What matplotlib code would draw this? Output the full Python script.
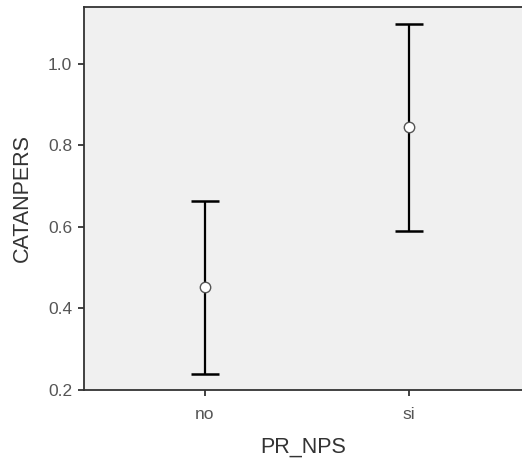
import numpy as np
import matplotlib
matplotlib.use("Agg")
import matplotlib.pyplot as plt

# group means with error bar limits
groups = ['no', 'si']
means = [0.452, 0.845]
lower = [0.240, 0.590]
upper = [0.663, 1.098]

plt.rcParams['font.family'] = ['Liberation Sans', 'DejaVu Sans']

fig = plt.figure(figsize=(5.22, 4.59), dpi=100)
ax = fig.add_axes([84/522, 1 - 390/459, 1 - 84/522, (390 - 6.5)/459])
ax.set_facecolor('#f0f0f0')

x = np.arange(len(groups))
means = np.array(means)
yerr = np.vstack([means - np.array(lower), np.array(upper) - means])
ax.errorbar(x, means, yerr=yerr, fmt='none', ecolor='black', elinewidth=1.6,
            capsize=10, capthick=1.8, zorder=2)
ax.plot(x, means, 'o', ms=7.5, mfc='white', mec='#555555', mew=1, zorder=3)

ax.set_xlim(-0.593, 1.554)
ax.set_ylim(0.2, 1.141)
ax.set_xticks(x)
ax.set_xticklabels(groups)
ax.set_yticks([0.2, 0.4, 0.6, 0.8, 1.0])
ax.set_yticklabels(['0.2', '0.4', '0.6', '0.8', '1.0'])

for s in ['top', 'bottom', 'left']:
    ax.spines[s].set_color('#333333')
    ax.spines[s].set_linewidth(1.3)
ax.spines['right'].set_visible(False)

ax.tick_params(axis='both', labelsize=12.5, labelcolor='#555555', color='#333333',
               length=4.5, width=1.3)
ax.tick_params(axis='y', pad=4)
ax.tick_params(axis='x', pad=8)
ax.set_xlabel('PR_NPS', fontsize=15.5, color='#333333', labelpad=10)
ax.set_ylabel('CATANPERS', fontsize=15.5, color='#333333', labelpad=11)

fig.savefig('out.png', dpi=100)
